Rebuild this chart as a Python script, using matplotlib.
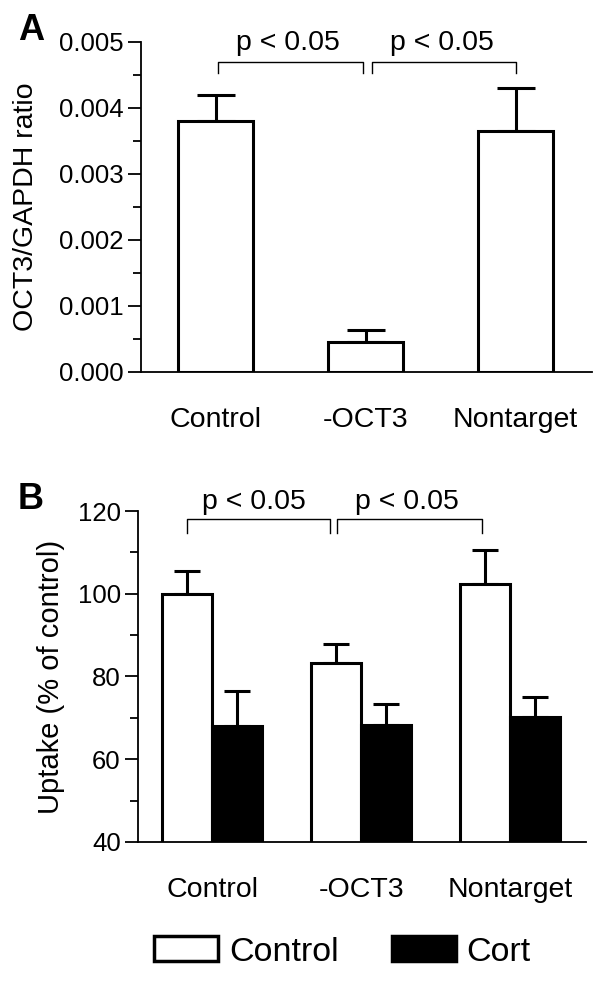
import numpy as np
import matplotlib.pyplot as plt
from matplotlib.patches import Patch
from matplotlib.ticker import MultipleLocator, FormatStrFormatter

plt.rcParams['font.family'] = ['Liberation Sans', 'DejaVu Sans']

groups = ['Control', '-OCT3', 'Nontarget']

# panel A: OCT3/GAPDH ratio
ratio = [0.00381, 0.00046, 0.00365]
ratio_err = [0.00039, 0.00018, 0.00066]

# panel B: uptake (% of control)
uptake_ctrl = [100.0, 83.3, 102.4]
uptake_ctrl_err = [5.4, 4.5, 8.2]
uptake_cort = [68.1, 68.3, 70.3]
uptake_cort_err = [8.3, 5.1, 4.8]

legend_labels = ['Control', 'Cort']
p_text = 'p < 0.05'

lw_bar = 2.2
x = np.arange(len(groups))

fig = plt.figure(figsize=(6, 9.81), dpi=100)


def style_axes(ax, tick_fs):
    ax.spines['top'].set_visible(False)
    ax.spines['right'].set_visible(False)
    ax.spines['left'].set_linewidth(1.3)
    ax.spines['bottom'].set_linewidth(1.3)
    ax.tick_params(axis='y', which='major', length=9.5, width=1.3, pad=3, labelsize=tick_fs)
    ax.tick_params(axis='y', which='minor', length=6, width=1.3)
    ax.tick_params(axis='x', length=0, pad=25, labelsize=20.5)


def bracket(ax, x0, x1, yb, yt):
    ax.plot([x0, x0, x1, x1], [yb, yt, yt, yb], color='black', lw=1.0, clip_on=False)


# ---- A ----
axA = fig.add_axes([0.235, 0.6208, 0.752, 0.3364])
axA.errorbar(x, ratio, yerr=[np.zeros(3), ratio_err], fmt='none', ecolor='black',
             elinewidth=lw_bar, capsize=14, capthick=lw_bar, zorder=1)
axA.bar(x, ratio, width=0.5, color='white', edgecolor='black', linewidth=lw_bar, zorder=2)
axA.set_xlim(-0.497, 2.51)
axA.set_ylim(0, 0.005)
axA.yaxis.set_major_locator(MultipleLocator(0.001))
axA.yaxis.set_minor_locator(MultipleLocator(0.0005))
axA.yaxis.set_major_formatter(FormatStrFormatter('%.3f'))
axA.set_xticks(x)
axA.set_xticklabels(groups)
style_axes(axA, 18.5)
axA.set_ylabel('OCT3/GAPDH ratio', fontsize=20.5)
axA.yaxis.set_label_coords(-0.226, 0.5)

bracket(axA, 0.017, 0.98, 0.00453, 0.0047)
bracket(axA, 1.04, 2.0, 0.00453, 0.0047)
axA.text(0.48, 0.00488, p_text, ha='center', va='baseline', fontsize=20.5, clip_on=False)
axA.text(1.51, 0.00488, p_text, ha='center', va='baseline', fontsize=20.5, clip_on=False)

# ---- B ----
axB = fig.add_axes([0.23, 0.1417, 0.747, 0.3374])
w = 0.335
axB.errorbar(x - w / 2, uptake_ctrl, yerr=[np.zeros(3), uptake_ctrl_err], fmt='none',
             ecolor='black', elinewidth=lw_bar, capsize=9.5, capthick=lw_bar, zorder=1)
axB.errorbar(x + w / 2, uptake_cort, yerr=[np.zeros(3), uptake_cort_err], fmt='none',
             ecolor='black', elinewidth=lw_bar, capsize=9.5, capthick=lw_bar, zorder=1)
axB.bar(x - w / 2, uptake_ctrl, width=w, color='white', edgecolor='black',
        linewidth=lw_bar, zorder=2)
axB.bar(x + w / 2, uptake_cort, width=w, color='black', edgecolor='black',
        linewidth=lw_bar, zorder=2)
axB.set_xlim(-0.497, 2.51)
axB.set_ylim(40, 120)
axB.yaxis.set_major_locator(MultipleLocator(20))
axB.yaxis.set_minor_locator(MultipleLocator(10))
axB.set_xticks(x)
axB.set_xticklabels(groups)
style_axes(axB, 18.5)
axB.set_ylabel('Uptake (% of control)', fontsize=21)
axB.yaxis.set_label_coords(-0.163, 0.5)

bracket(axB, -0.17, 0.79, 114.8, 118.0)
bracket(axB, 0.84, 1.81, 114.8, 118.0)
axB.text(0.28, 120.6, p_text, ha='center', va='baseline', fontsize=20.5, clip_on=False)
axB.text(1.31, 120.6, p_text, ha='center', va='baseline', fontsize=20.5, clip_on=False)

# panel letters
fig.text(0.03, 1 - 30 / 981, 'A', fontsize=26, fontweight='bold',
         ha='left', va='center')
fig.text(0.03, 1 - 499 / 981, 'B', fontsize=26, fontweight='bold',
         ha='left', va='center')

handles = [Patch(facecolor='white', edgecolor='black', linewidth=2.5),
           Patch(facecolor='black', edgecolor='black', linewidth=2.5)]
fig.legend(handles, legend_labels, ncol=2, frameon=False, loc='center',
           bbox_to_anchor=(0.571, 1 - 952 / 981), fontsize=24.5, handlelength=1.88,
           handleheight=0.74, handletextpad=0.32, columnspacing=1.56)

fig.savefig('out.png', dpi=100)
